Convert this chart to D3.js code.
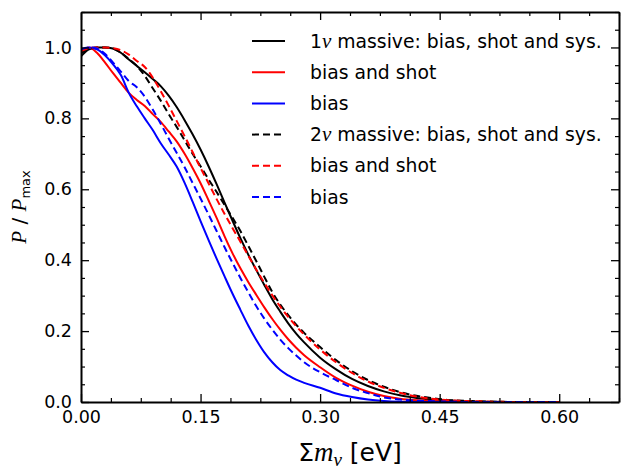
<!DOCTYPE html>
<html>
<head>
<meta charset="utf-8">
<script src="https://cdn.jsdelivr.net/npm/d3@7"></script>
<style>
body { margin: 0; background: #fff; }
svg text { font-family: "DejaVu Sans", sans-serif; fill: #000; }
.axis text { font-size: 17.5px; }
.axis path, .axis line { stroke: #000; }
.math { font-family: "Liberation Serif", serif; font-style: italic; }
</style>
</head>
<body>
<div id="graphic"></div>
<script>

// sum of neutrino masses [eV]
const massNu = [0, 0.01, 0.02, 0.03, 0.04, 0.05, 0.06, 0.07, 0.08, 0.09,
                0.10, 0.11, 0.12, 0.13, 0.14, 0.15, 0.16, 0.17, 0.18, 0.19,
                0.20, 0.21, 0.22, 0.23, 0.24, 0.25, 0.26, 0.27, 0.28, 0.30,
                0.32, 0.34, 0.36, 0.38, 0.40, 0.43, 0.46, 0.50, 0.55, 0.60];

// P / Pmax, 1 massive neutrino
const oneNuFull = [0.975, 0.995, 1.0, 1.0, 0.997, 0.985, 0.966, 0.948, 0.93, 0.911,
                   0.891, 0.864, 0.832, 0.795, 0.755, 0.712, 0.665, 0.615, 0.563, 0.512,
                   0.462, 0.415, 0.372, 0.33, 0.29, 0.255, 0.222, 0.193, 0.168, 0.125,
                   0.092, 0.065, 0.045, 0.03, 0.019, 0.009, 0.004, 0.001, 0, 0];
const oneNuShot = [0.985, 1.0, 0.985, 0.958, 0.928, 0.9, 0.872, 0.852, 0.835, 0.812,
                   0.79, 0.763, 0.735, 0.70, 0.66, 0.617, 0.569, 0.52, 0.468, 0.42,
                   0.377, 0.338, 0.302, 0.267, 0.234, 0.204, 0.177, 0.153, 0.132, 0.098,
                   0.068, 0.046, 0.029, 0.017, 0.009, 0.004, 0.001, 0, 0, 0];
const oneNuBias = [0.99, 1.0, 0.995, 0.978, 0.953, 0.922, 0.872, 0.834, 0.80, 0.767,
                   0.73, 0.698, 0.664, 0.618, 0.565, 0.51, 0.457, 0.405, 0.355, 0.306,
                   0.26, 0.215, 0.175, 0.14, 0.112, 0.09, 0.075, 0.063, 0.054, 0.04,
                   0.024, 0.014, 0.007, 0.003, 0.001, 0, 0, 0, 0, 0];

// P / Pmax, 2 massive neutrinos
const twoNuFull = [0.985, 0.995, 1.0, 1.0, 0.997, 0.985, 0.968, 0.948, 0.92, 0.885,
                   0.85, 0.812, 0.776, 0.738, 0.70, 0.665, 0.628, 0.593, 0.556, 0.52,
                   0.482, 0.44, 0.397, 0.353, 0.31, 0.275, 0.245, 0.218, 0.195, 0.155,
                   0.118, 0.087, 0.062, 0.043, 0.028, 0.014, 0.006, 0.002, 0, 0];
const twoNuShot = [0.99, 0.998, 1.0, 1.0, 0.998, 0.992, 0.98, 0.962, 0.945, 0.915,
                   0.877, 0.836, 0.793, 0.75, 0.705, 0.66, 0.617, 0.573, 0.531, 0.491,
                   0.452, 0.412, 0.373, 0.336, 0.301, 0.269, 0.24, 0.214, 0.19, 0.148,
                   0.112, 0.082, 0.058, 0.04, 0.026, 0.012, 0.005, 0.002, 0, 0];
const twoNuBias = [0.995, 1.0, 0.997, 0.982, 0.958, 0.932, 0.905, 0.888, 0.861, 0.825,
                   0.785, 0.743, 0.703, 0.662, 0.618, 0.574, 0.529, 0.483, 0.437, 0.393,
                   0.35, 0.309, 0.27, 0.235, 0.204, 0.176, 0.152, 0.131, 0.112, 0.084,
                   0.062, 0.04, 0.025, 0.013, 0.007, 0.003, 0.001, 0, 0, 0];

const seriesValues = [oneNuFull, oneNuShot, oneNuBias, twoNuFull, twoNuShot, twoNuBias];
const legendLabels = ["massive: bias, shot and sys.", "bias and shot", "bias",
                      "massive: bias, shot and sys.", "bias and shot", "bias"];
const legendPrefix = ["1", "", "", "2", "", ""];

const xMajorTicks = [0, 0.15, 0.30, 0.45, 0.60];
const yMajorTicks = [0, 0.2, 0.4, 0.6, 0.8, 1.0];

// line looks
const seriesColor = ["#000000", "#ff0000", "#0000ff", "#000000", "#ff0000", "#0000ff"];
const seriesDash = [null, null, null, "7,4", "7,4", "7,4"];


w = 624, h = 471;
const pLeft = 81, pRight = 619, pTop = 12, pBottom = 402;

svg = d3.select("#graphic")
    .append("svg")
    .attr("width", w)
    .attr("height", h);

xScale = d3.scaleLinear()
    .domain([0, 0.675])
    .range([pLeft, pRight]);
yScale = d3.scaleLinear()
    .domain([0, 1.1])
    .range([pBottom, pTop]);

// minor ticks: 4 per major interval
const xMinor = d3.range(0, 0.676, 0.0375).filter(v => xMajorTicks.every(t => Math.abs(t - v) > 1e-6));
const yMinor = d3.range(0, 1.101, 0.05).filter(v => yMajorTicks.every(t => Math.abs(t - v) > 1e-6));

svg.append("clipPath")
    .attr("id", "plotclip")
    .append("rect")
    .attr("x", pLeft).attr("y", pTop)
    .attr("width", pRight - pLeft).attr("height", pBottom - pTop);

// curves
const line = d3.line()
    .x(d => xScale(d[0]))
    .y(d => yScale(d[1]))
    .curve(d3.curveMonotoneX);

const curves = svg.append("g").attr("clip-path", "url(#plotclip)");
seriesValues.forEach(function(vals, i){
    curves.append("path")
        .datum(massNu.map((m, j) => [m, vals[j]]))
        .attr("d", line)
        .attr("fill", "none")
        .attr("stroke", seriesColor[i])
        .attr("stroke-width", 2)
        .attr("stroke-dasharray", seriesDash[i]);
});

// axes, ticks pointing inward on all sides
function minorAxis(axis, vals, tr){
    svg.append("g")
       .attr("class", "axis")
       .attr("transform", tr)
       .call(axis.tickValues(vals).tickSize(-4).tickSizeOuter(0).tickFormat(""))
       .call(g => g.select(".domain").remove())
       .selectAll("line").attr("stroke-width", 1.2);
}
minorAxis(d3.axisBottom(xScale), xMinor, "translate(0," + pBottom + ")");
minorAxis(d3.axisTop(xScale), xMinor, "translate(0," + pTop + ")");
minorAxis(d3.axisLeft(yScale), yMinor, "translate(" + pLeft + ",0)");
minorAxis(d3.axisRight(yScale), yMinor, "translate(" + pRight + ",0)");

function majorAxis(axis, tr, fmt){
    let g = svg.append("g")
       .attr("class", "axis")
       .attr("transform", tr)
       .call(axis.tickSize(-8).tickSizeOuter(0).tickPadding(9).tickFormat(fmt));
    g.select(".domain").attr("stroke-width", 2);
    g.selectAll("line").attr("stroke-width", 1.3);
    return g;
}
majorAxis(d3.axisBottom(xScale).tickValues(xMajorTicks), "translate(0," + pBottom + ")", d3.format(".2f"));
majorAxis(d3.axisTop(xScale).tickValues(xMajorTicks), "translate(0," + pTop + ")", () => "");
majorAxis(d3.axisLeft(yScale).tickValues(yMajorTicks), "translate(" + pLeft + ",0)", d3.format(".1f"));
majorAxis(d3.axisRight(yScale).tickValues(yMajorTicks), "translate(" + pRight + ",0)", () => "");

// legend
const legend = svg.append("g").attr("transform", "translate(252,41)");
legendLabels.forEach(function(lab, i){
    let row = legend.append("g").attr("transform", "translate(0," + (i * 31.2) + ")");
    row.append("line")
       .attr("x1", 0).attr("x2", 33)
       .attr("stroke", seriesColor[i])
       .attr("stroke-width", 2)
       .attr("stroke-dasharray", seriesDash[i]);
    let t = row.append("text")
       .attr("x", 58).attr("y", 6.5)
       .style("font-size", "18.8px");
    if (legendPrefix[i] !== ""){
        t.append("tspan").text(legendPrefix[i]);
        t.append("tspan").attr("class", "math").style("font-size", "21px").text("\u03bd");
        t.append("tspan").text(" " + lab);
    } else {
        t.append("tspan").text(lab);
    }
});

// axis labels
const xl = svg.append("text")
    .attr("x", (pLeft + pRight) / 2)
    .attr("y", 461)
    .attr("text-anchor", "middle")
    .style("font-size", "25px");
xl.append("tspan").text("\u03a3");
xl.append("tspan").attr("class", "math").style("font-size", "27px").text("m");
xl.append("tspan").attr("class", "math").attr("dy", 5).style("font-size", "19px").text("\u03bd");
xl.append("tspan").attr("dy", -5).text(" [eV]");

const yl = svg.append("text")
    .attr("transform", "translate(26," + ((pTop + pBottom) / 2) + ") rotate(-90)")
    .attr("text-anchor", "middle")
    .style("font-size", "20px");
yl.append("tspan").attr("class", "math").style("font-size", "21px").text("P");
yl.append("tspan").text(" / ");
yl.append("tspan").attr("class", "math").style("font-size", "21px").text("P");
yl.append("tspan").attr("dy", 4).style("font-size", "13px").text("max");

</script>
</body>
</html>
